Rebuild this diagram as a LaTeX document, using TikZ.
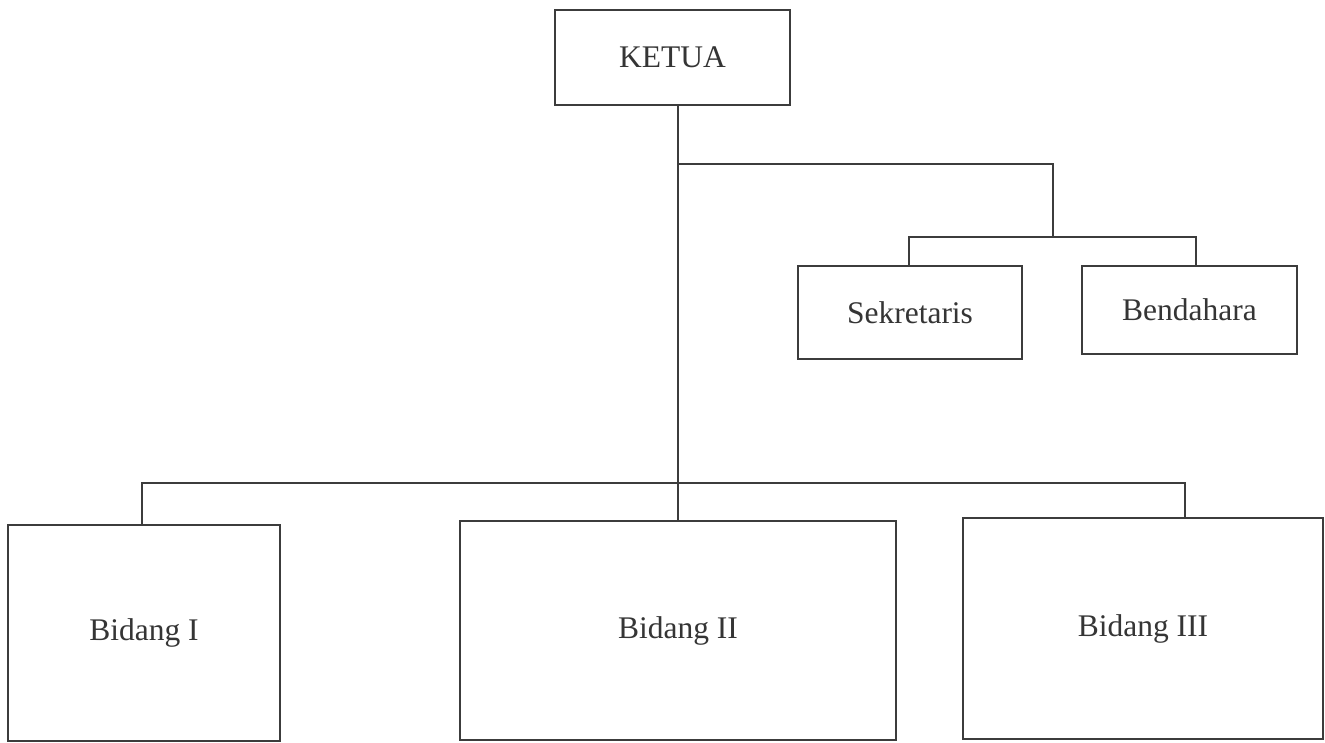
\documentclass[tikz,border=0pt]{standalone}
\usepackage{fontspec}
\setmainfont{Liberation Serif}
\begin{document}
\begin{tikzpicture}[x=1pt,y=-1pt,
  box/.style={draw=linegray, line width=1.8pt, rectangle, inner sep=0pt, outer sep=0pt,
    font=\fontsize{31.5}{37}\selectfont, text=textgray},
  conn/.style={draw=linegray, line width=1.8pt}]
\definecolor{linegray}{HTML}{3C3C3C}
\definecolor{textgray}{HTML}{353535}
\useasboundingbox (0,0) rectangle (1325,742);
\fill[white] (0,0) rectangle (1325,742);
% nodes
\node[box, minimum width=235pt, minimum height=95pt] (ketua) at (672.5,57.5) {KETUA};
\node[box, minimum width=224pt, minimum height=93pt] (sek) at (910,312.5) {Sekretaris};
\node[box, minimum width=215pt, minimum height=88pt] (ben) at (1189.5,310) {Bendahara};
\node[box, minimum width=272pt, minimum height=216pt] (b1) at (144,633) {Bidang I};
\node[box, minimum width=436pt, minimum height=219pt] (b2) at (678,630.5) {Bidang II};
\node[box, minimum width=360pt, minimum height=221pt] (b3) at (1143,628.5) {Bidang III};
% junction coordinates
\coordinate (j1) at (678,164);
\coordinate (j2) at (1053,164);
\coordinate (sbL) at (909,237);
\coordinate (sbR) at (1196,237);
\coordinate (bbL) at (142,483);
\coordinate (bbR) at (1185,483);
% connectors
\draw[conn] (ketua.south -| b2.north) -- (b2.north);
\draw[conn] (j1) -- (j2) -- (j2 |- sbL);
\draw[conn] (sek.north -| sbL) -- (sbL) -- (sbR) -- (ben.north -| sbR);
\draw[conn] (b1.north -| bbL) -- (bbL) -- (bbR) -- (b3.north -| bbR);
\end{tikzpicture}
\end{document}
